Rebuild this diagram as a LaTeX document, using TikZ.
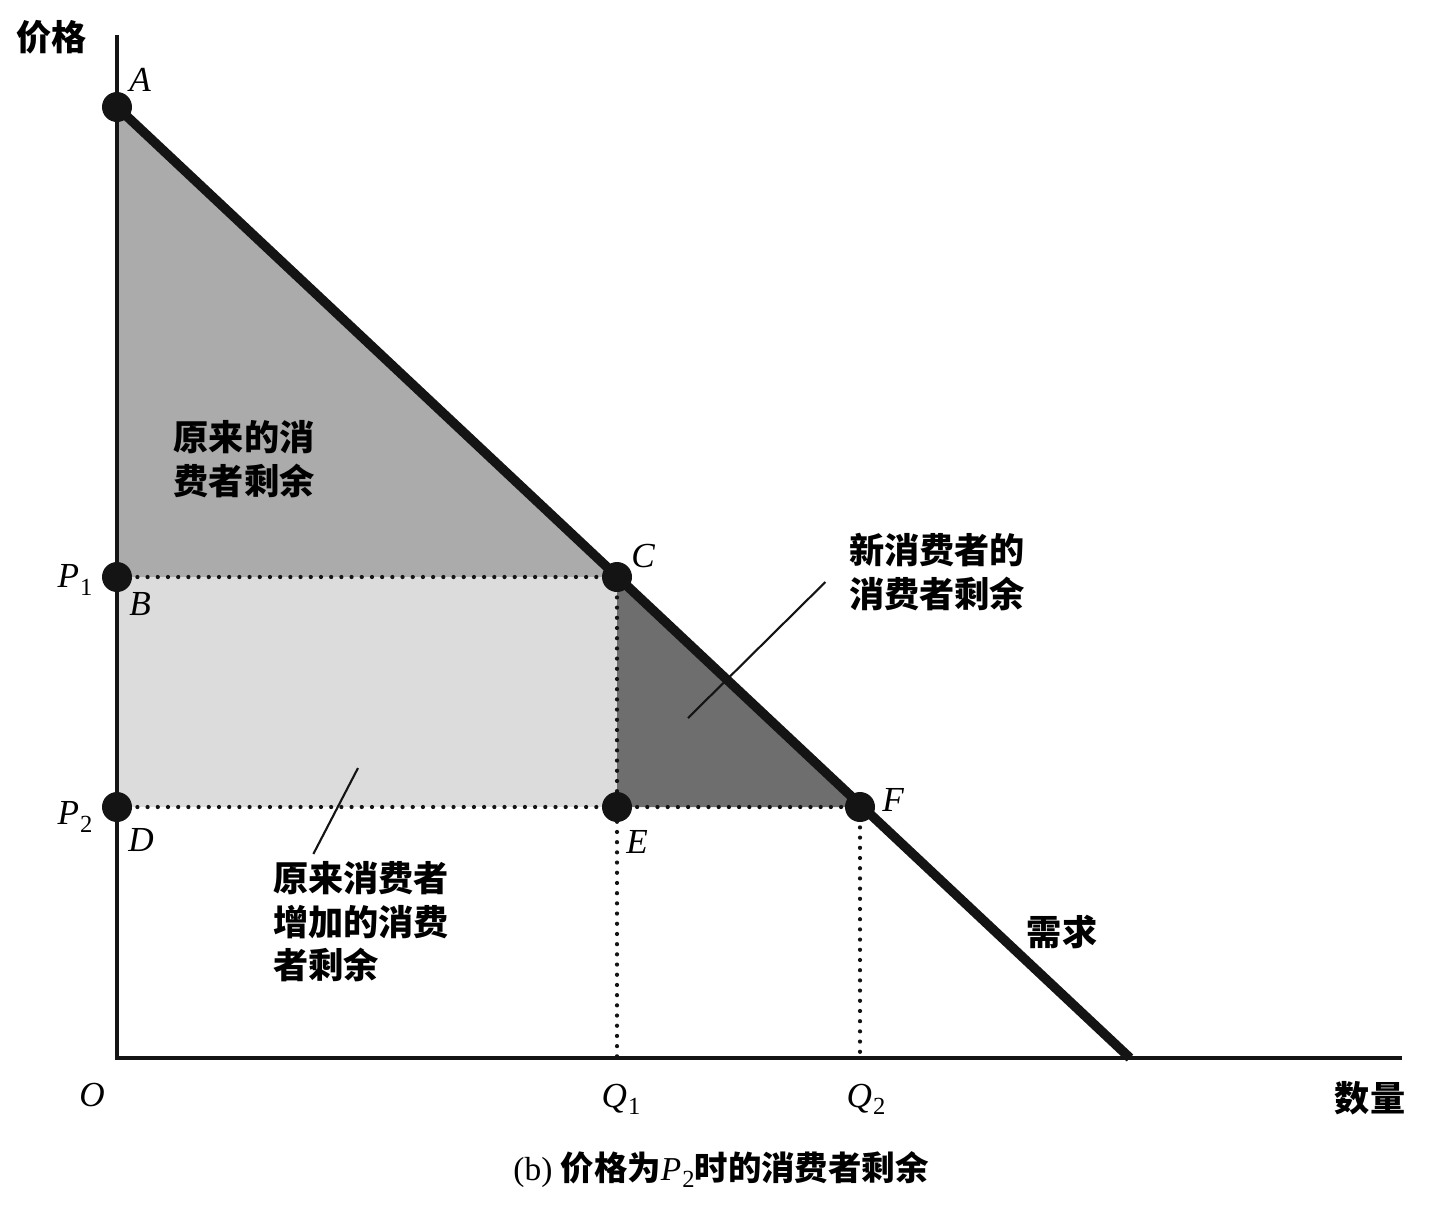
\documentclass[tikz,border=0pt]{standalone}
\usepackage{fontspec}
\setmainfont{Liberation Serif}
\newfontfamily\cjk{Noto Sans CJK SC}
\usetikzlibrary{calc}
\definecolor{color_cs_old}{HTML}{ABABAB}
\definecolor{color_cs_gain}{HTML}{DCDCDC}
\definecolor{color_cs_new}{HTML}{6E6E6E}
\definecolor{color_curve}{HTML}{141414}
\def\axislinewidth{1.1pt}
\def\curvelinewidth{2.7pt}
\def\dotradius{15}
\def\sublabel#1#2{\textit{#1}\kern0.3pt\raisebox{-0.45ex}{\upshape\fontsize{7}{8}\selectfont #2}}

\begin{document}
\begin{tikzpicture}[x=0.01cm,y=-0.01cm,
        ptlabel/.style={font=\fontsize{10}{12}\selectfont\itshape,inner sep=0pt},
        cslabel/.style={font=\fontsize{10}{12.4}\selectfont\cjk\bfseries,align=left,inner sep=0pt},
        guide/.style={color_curve,line width=1.2pt,dash pattern=on 0pt off 2.9pt,line cap=round},
        leader/.style={color_curve,line width=0.6pt}]
        \useasboundingbox (0,0) rectangle (1430,1208);
        % points of the diagram
        \coordinate (O) at (117,1058);
        \coordinate (Ytop) at (117,35);
        \coordinate (Xend) at (1402,1058);
        \coordinate (A) at (117,107);
        \coordinate (B) at (117,577);
        \coordinate (C) at (617,577);
        \coordinate (D) at (117,807);
        \coordinate (E) at (617,807);
        \coordinate (F) at (860,807);
        \coordinate (Q1) at (617,1058);
        \coordinate (Q2) at (860,1058);
        \coordinate (Dend) at (1130,1058);
        % surplus areas
        \fill[color_cs_old] (A) -- (C) -- (B) -- cycle;
        \fill[color_cs_gain] (B) rectangle (E);
        \fill[color_cs_new] (C) -- (F) -- (E) -- cycle;
        % guides
        \draw[guide] (B) -- (C);
        \draw[guide] (D) -- (F);
        \draw[guide] (C) -- (Q1);
        \draw[guide] (F) -- (Q2);
        % axes and demand
        \draw[color_curve,line width=\axislinewidth] (Ytop) -- (O) -- (Xend);
        \draw[color_curve,line width=\curvelinewidth] (A) -- (Dend);
        \foreach \p in {A,B,C,D,E,F}
            \fill[color_curve] (\p) circle (\dotradius);

        % point labels
        \node[ptlabel] at (140,80) {A};
        \node[ptlabel] at (140,604) {B};
        \node[ptlabel] at (643,556) {C};
        \node[ptlabel] at (141,840) {D};
        \node[ptlabel] at (637,842) {E};
        \node[ptlabel] at (893,800) {F};
        \node[ptlabel] at (75,580) {\sublabel{P}{1}};
        \node[ptlabel] at (75,817) {\sublabel{P}{2}};
        \node[ptlabel] at (92,1095) {O};
        \node[ptlabel] at (621,1099) {\sublabel{Q}{1}};
        \node[ptlabel] at (866,1099) {\sublabel{Q}{2}};

        % axis and area labels
        \node[cslabel] (price) at (52,37) {价格};
        \node[cslabel] (quantity) at (1370,1098) {数量};
        \node[cslabel] (demand) at (1062,932) {需求};
        \node[cslabel] (oldcs) at (244,459) {原来的消\\费者剩余};
        \node[cslabel] (newcs) at (937,572) {新消费者的\\消费者剩余};
        \node[cslabel] (gaincs) at (361,922) {原来消费者\\增加的消费\\者剩余};
        \node[font=\fontsize{9.5}{11}\selectfont,inner sep=0pt] (caption) at (721,1170)
            {(b) {\cjk\bfseries 价格为}\sublabel{P}{2}{\cjk\bfseries 时的消费者剩余}};

        % leaders
        \coordinate (newtip) at (688,718);
        \coordinate (gaintip) at (358,768);
        \draw[leader] ($(newcs.west)+(-23,10)$) -- (newtip);
        \draw[leader] ($(gaincs.north west)+(41,-7)$) -- (gaintip);
    \end{tikzpicture}
\end{document}
